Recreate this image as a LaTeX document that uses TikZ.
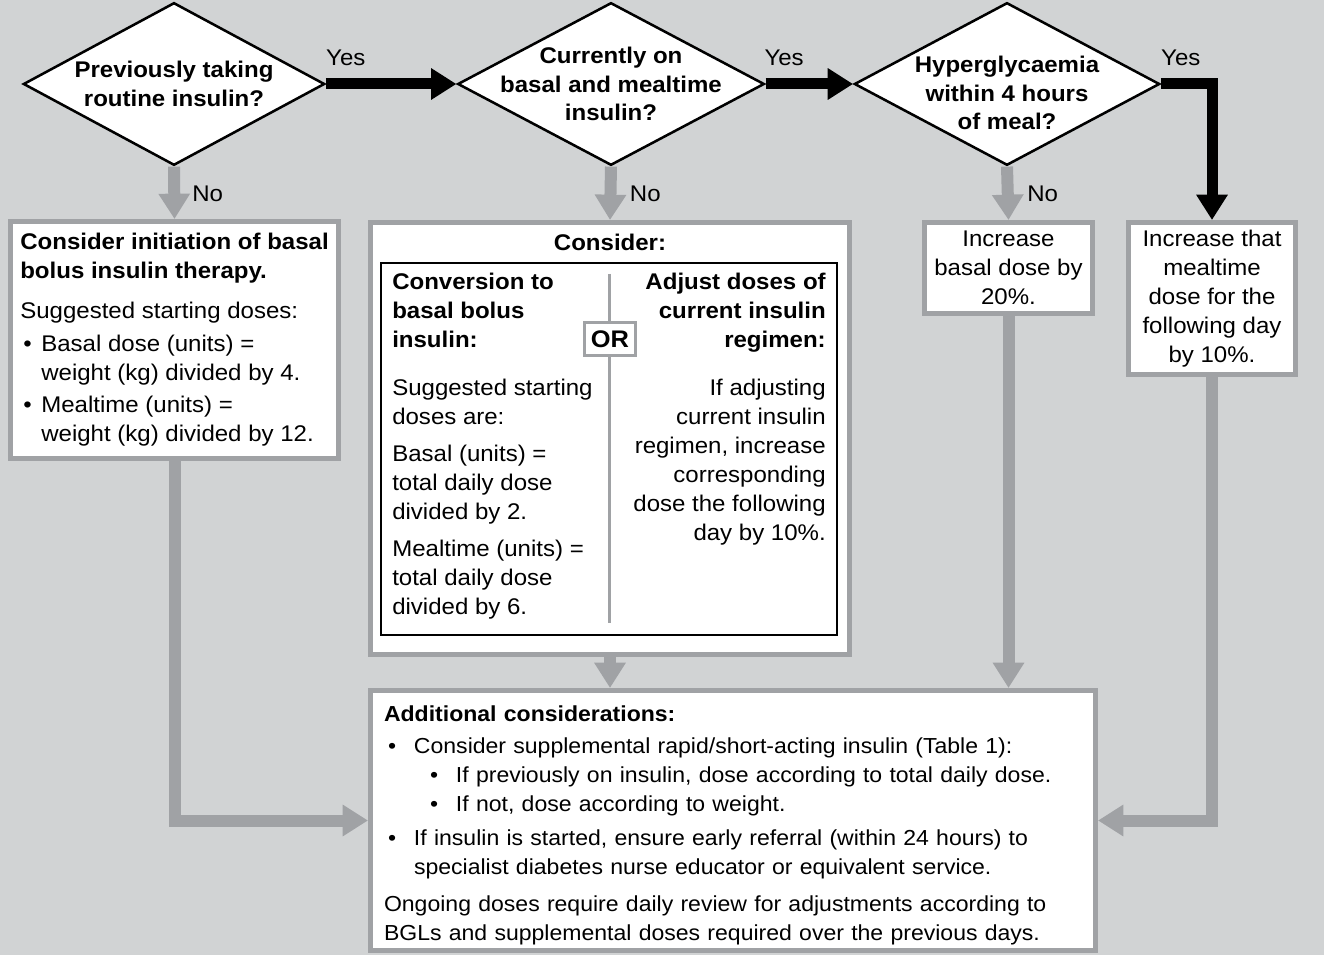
\documentclass[tikz,border=0pt]{standalone}
\usepackage{fontspec}
\setmainfont[FakeStretch=1.06]{Liberation Sans}
\usetikzlibrary{shapes.geometric,arrows.meta,positioning,calc}

\definecolor{pagegray}{RGB}{209,211,212}
\definecolor{framegray}{RGB}{160,162,165}

\begin{document}
\begin{tikzpicture}
[x=0.75pt,y=-0.75pt,
 font=\fontsize{17}{21.75}\selectfont,
 question/.style={
	diamond,
	draw=black,
	fill=white,
	line width=1.9pt,
	aspect=1.85,
	inner sep=-10pt,
	align=center,
	font=\fontsize{17}{21.5}\selectfont\bfseries,
	minimum height=122pt,
    },
 panel/.style={
	draw=framegray,
	fill=white,
	line width=3.75pt,
	inner sep=0pt,
    },
 yesline/.style={
	draw=black,
	line width=8.25pt,
	-{Triangle[width=22.5pt,length=19pt]},
    },
 noline/.style={
	draw=framegray,
	line width=9pt,
	-{Triangle[width=22.5pt,length=19pt]},
    },
 answer/.style={inner sep=0pt, anchor=base west},
]
\useasboundingbox (0,0) rectangle (1324,955);
\fill[pagegray] (0,0) rectangle (1324,955);

% questions along the top
\node[question, minimum width=226pt] (prevq) at (174,84) {Previously taking\\routine insulin?};
\node[question, minimum width=230pt] (currq) at (611,84) {Currently on\\basal and mealtime\\insulin?};
\node[question, minimum width=229pt] (hyperq) at (1007,84) {\rule{0pt}{26pt}Hyperglycaemia\\within 4 hours\\of meal?};

% left box
\node[panel, minimum width=246pt, minimum height=177.75pt, align=left] (initbox) at (174.5,340) {\textbf{Consider initiation of basal}\\\textbf{bolus insulin therapy.}\\[8.25pt]Suggested starting doses:\\[3pt]\hspace*{2.25pt}\makebox[13.5pt][l]{\textbullet}Basal dose (units) =\\\hspace*{15.75pt}weight (kg) divided by 4.\\[2.25pt]\hspace*{2.25pt}\makebox[13.5pt][l]{\textbullet}Mealtime (units) =\\\hspace*{15.75pt}weight (kg) divided by 12.};

% middle box
\node[panel, minimum width=359.25pt, minimum height=324pt] (considerbox) at (610,438.5) {};
\node[font=\fontsize{17}{21.75}\selectfont\bfseries] (considerhead) at (610,242) {Consider:};
\node[draw=black, line width=1.5pt, minimum width=342pt, minimum height=279pt, inner sep=0pt] (optionsbox) at (609,449) {};
\draw[framegray, line width=2.25pt] ([yshift=-9pt]optionsbox.north) -- ([yshift=10pt]optionsbox.south);
\node[draw=framegray, fill=white, line width=2.25pt, minimum width=38.25pt, minimum height=24.75pt, inner sep=0pt, font=\fontsize{18}{18}\selectfont\bfseries] (ornode) at (610,339) {OR};
\node[align=left, anchor=north west, inner sep=0pt] (convtext) at (392,273) {\textbf{Conversion to}\\\textbf{basal bolus}\\\textbf{insulin:}\\[14.25pt]Suggested starting\\doses are:\\[6pt]Basal (units) =\\total daily dose\\divided by 2.\\[6pt]Mealtime (units) =\\total daily dose\\divided by 6.};
\node[align=right, anchor=north east, inner sep=0pt] (adjusttext) at (826,273) {\textbf{Adjust doses of}\\\textbf{current insulin}\\\textbf{regimen:}\\[14.25pt]If adjusting\\current insulin\\regimen, increase\\corresponding\\dose the following\\day by 10\%.};

% right boxes
\node[panel, minimum width=126pt, minimum height=68.25pt, align=center] (basalbox) at (1008.5,268) {Increase\\basal dose by\\20\%.};
\node[panel, minimum width=125.25pt, minimum height=114pt, align=center] (mealbox) at (1212,298.5) {Increase that\\mealtime\\dose for the\\following day\\by 10\%.};

% bottom box
\node[panel, minimum width=543.75pt, minimum height=195pt, text width=523.5pt, align=left, font=\fontsize{16.3}{21.75}\selectfont] (extrabox) at (733,820.5) {\rule{0pt}{19.5pt}\textbf{Additional considerations:}\\[2.25pt]
\hspace*{3pt}\makebox[19.5pt][l]{\textbullet}Consider supplemental rapid/short-acting insulin (Table 1):\\
\hspace*{34.5pt}\makebox[19.5pt][l]{\textbullet}If previously on insulin, dose according to total daily dose.\\
\hspace*{34.5pt}\makebox[19.5pt][l]{\textbullet}If not, dose according to weight.\\[4pt]
\hspace*{3pt}\makebox[19.5pt][l]{\textbullet}If insulin is started, ensure early referral (within 24 hours) to\\
\hspace*{22.5pt}specialist diabetes nurse educator or equivalent service.\\[6pt]
Ongoing doses require daily review for adjustments according to\\
BGLs and supplemental doses required over the previous days.};

%draw lines
\draw[yesline] (prevq.east) -- (currq.west);
\draw[yesline] (currq.east) -- (hyperq.west);
\draw[yesline] (hyperq.east) -| (mealbox.north);
\draw[noline] (prevq.south) -- (initbox.north);
\draw[noline] (currq.south) -- (considerbox.north);
\draw[noline] (hyperq.south) -- (basalbox.north);
\draw[noline] (initbox.south) |- (extrabox.west);
\draw[noline] (considerbox.south) -- (considerbox.south |- extrabox.north);
\draw[noline] (basalbox.south) -- (basalbox.south |- extrabox.north);
\draw[noline] (mealbox.south) |- (extrabox.east);

% answers
\node[answer] (yes1) at ([xshift=0pt,yshift=13.5pt]prevq.east) {Yes};
\node[answer] (yes2) at ([xshift=-1pt,yshift=13.5pt]currq.east) {Yes};
\node[answer] (yes3) at ([xshift=0pt,yshift=13.5pt]hyperq.east) {Yes};
\node[answer] (no1) at ([xshift=13.5pt,yshift=-26pt]prevq.south) {No};
\node[answer] (no2) at ([xshift=14pt,yshift=-26pt]currq.south) {No};
\node[answer] (no3) at ([xshift=15pt,yshift=-26pt]hyperq.south) {No};
\end{tikzpicture}
\end{document}
